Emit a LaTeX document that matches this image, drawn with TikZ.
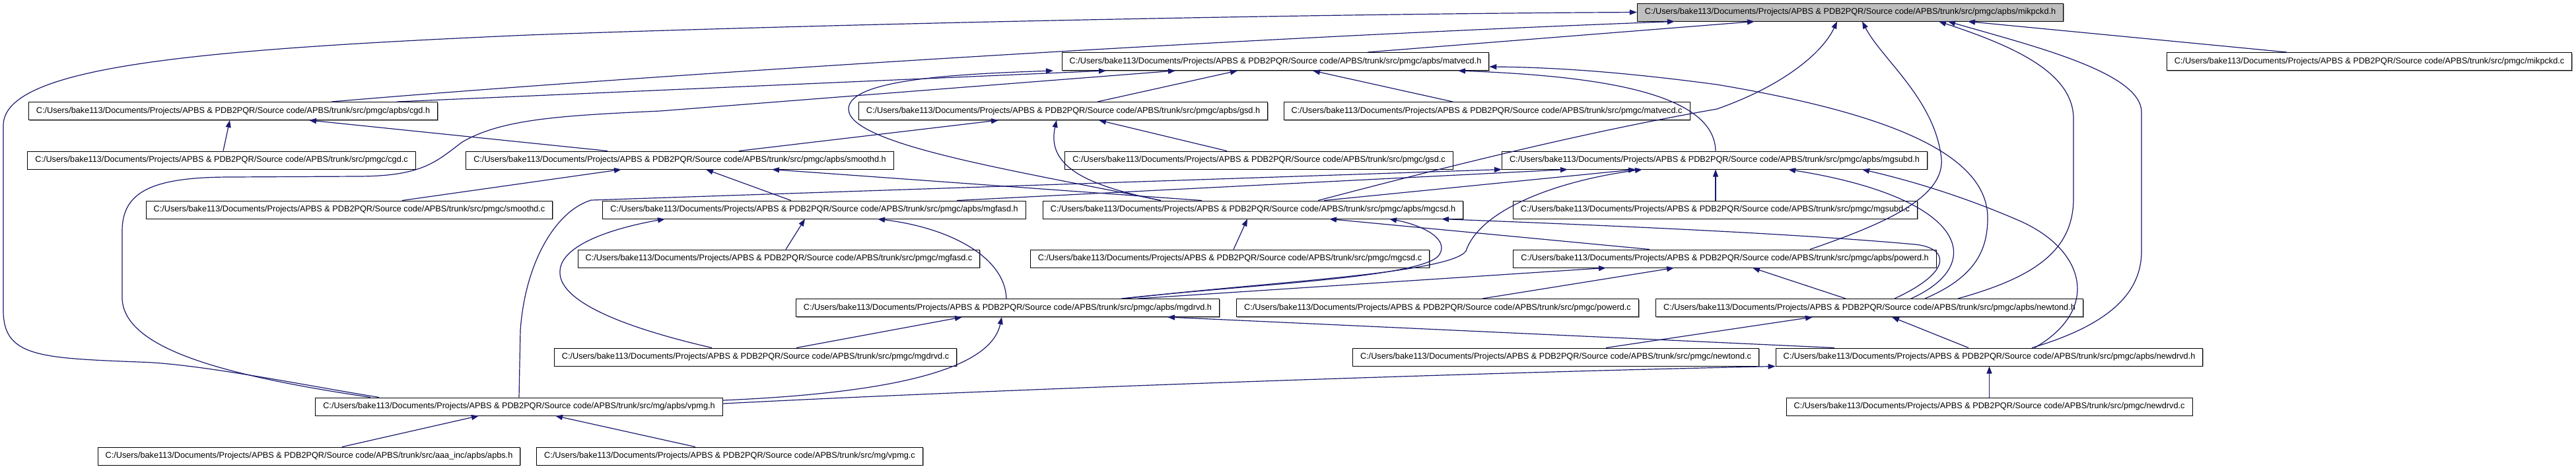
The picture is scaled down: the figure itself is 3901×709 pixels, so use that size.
\documentclass[tikz,border=0pt]{standalone}
\usepackage{fontspec}
\setmainfont{Liberation Sans}
\usetikzlibrary{arrows.meta,shadows}
\definecolor{edgeblue}{HTML}{191970}
\definecolor{rootgray}{HTML}{BFBFBF}
\newcommand{\pth}{C:/Users/bake113/Documents/Projects/APBS \& PDB2PQR/Source code/APBS/trunk/src/}
\begin{document}
\begin{tikzpicture}[x=0.5pt,y=-0.5pt,
  file/.style={draw=black,line width=0.5pt,fill=white,minimum height=13.5pt,inner xsep=5.75pt,inner ysep=0pt,
     font=\fontsize{6.35}{7.6}\selectfont,anchor=center,
     drop shadow={shadow xshift=0.6pt,shadow yshift=-0.6pt,fill=gray!80,opacity=1}},
  rootfile/.style={file,fill=rootgray},
  edge/.style={draw=edgeblue,line width=0.6pt,-{Triangle[length=5.5pt,width=4pt]}}]
\useasboundingbox (0,0) rectangle (3901,709);
% rows
\node[rootfile] (mikh) at (2802,18.5) {\pth pmgc/apbs/mikpckd.h};
\node[file] (mikc) at (3588,93) {\pth pmgc/mikpckd.c};
\node[file] (matvh) at (1931.5,93) {\pth pmgc/apbs/matvecd.h};
\node[file] (cgdh) at (353,168) {\pth pmgc/apbs/cgd.h};
\node[file] (gsdh) at (1610,168) {\pth pmgc/apbs/gsd.h};
\node[file] (matvc) at (2251.5,168) {\pth pmgc/matvecd.c};
\node[file] (cgdc) at (335.5,242.5) {\pth pmgc/cgd.c};
\node[file] (smoh) at (1029.5,242.5) {\pth pmgc/apbs/smoothd.h};
\node[file] (gsdc) at (1906.5,242.5) {\pth pmgc/gsd.c};
\node[file] (mgsubh) at (2596.5,242.5) {\pth pmgc/apbs/mgsubd.h};
\node[file] (smoc) at (529,317.5) {\pth pmgc/smoothd.c};
\node[file] (mgfash) at (1233,317.5) {\pth pmgc/apbs/mgfasd.h};
\node[file] (mgcsh) at (1897.5,317.5) {\pth pmgc/apbs/mgcsd.h};
\node[file] (mgsubc) at (2597.5,317.5) {\pth pmgc/mgsubd.c};
\node[file] (mgfasc) at (1179.5,391.5) {\pth pmgc/mgfasd.c};
\node[file] (mgcsc) at (1862.5,391.5) {\pth pmgc/mgcsd.c};
\node[file] (powh) at (2612,391.5) {\pth pmgc/apbs/powerd.h};
\node[file] (mgdrvh) at (1526,466) {\pth pmgc/apbs/mgdrvd.h};
\node[file] (powc) at (2177,466) {\pth pmgc/powerd.c};
\node[file] (newth) at (2831,466) {\pth pmgc/apbs/newtond.h};
\node[file] (mgdrvc) at (1144,540.5) {\pth pmgc/mgdrvd.c};
\node[file] (newtc) at (2356,540.5) {\pth pmgc/newtond.c};
\node[file] (newdrvh) at (3012.5,540.5) {\pth pmgc/apbs/newdrvd.h};
\node[file] (vpmgh) at (786,615.5) {\pth mg/apbs/vpmg.h};
\node[file] (newdrvc) at (3012.5,615.5) {\pth pmgc/newdrvd.c};
\node[file] (apbsh) at (468,690.5) {\pth aaa\_inc/apbs/apbs.h};
\node[file] (vpmgc) at (1105,690.5) {\pth mg/vpmg.c};
% edges into mikpckd.h
\draw[edge] (mikc.north -| 3463,0) -- (mikh.south -| 2980,0);
\draw[edge] (matvh.north -| 2071,0) -- (mikh.south -| 2657,0);
\draw[edge] (cgdh.north -| 502,0) .. controls (900,120) and (1800,60) .. (mikh.south -| 2536,0);
\draw[edge] (vpmgh.north -| 574,0) .. controls (470,585) and (300,550) .. (210,548) .. controls (60,542) and (5,540) .. (5,470) -- (5,190) .. controls (5,100) and (300,75) .. (800,53) .. controls (1300,35) and (2000,21) .. (mikh.west);
\draw[edge] (mgcsh.north -| 1996,0) .. controls (2200,250) and (2400,200) .. (2600,165) .. controls (2700,130) and (2760,80) .. (mikh.south -| 2782,0);
\draw[edge] (powh.north -| 2741,0) .. controls (2850,340) and (2945,300) .. (2940,240) .. controls (2930,150) and (2850,90) .. (mikh.south -| 2820,0);
\draw[edge] (newth.north -| 2965,0) .. controls (3080,420) and (3140,380) .. (3140,300) -- (3140,180) .. controls (3140,110) and (3050,70) .. (mikh.south -| 2936,0);
\draw[edge] (newdrvh.north -| 3077,0) .. controls (3200,490) and (3243,440) .. (3243,380) -- (3243,170) .. controls (3243,110) and (3080,70) .. (mikh.south -| 2950,0);
% edges into matvecd.h
\draw[edge] (vpmgh.north -| 561,0) .. controls (350,570) and (185,530) .. (185,450) -- (185,350) .. controls (185,290) and (230,268) .. (350,268) -- (540,267) .. controls (640,267) and (660,245) .. (700,215) .. controls (760,180) and (850,175) .. (1000,168) -- (matvh.south -| 1780,0);
\draw[edge] (cgdh.north -| 601,0) -- (matvh.south -| 1675,0);
\draw[edge] (mgcsh.north -| 1758,0) .. controls (1550,260) and (1285,220) .. (1285,165) .. controls (1285,120) and (1450,112) .. (matvh.south -| 1595,0);
\draw[edge] (gsdh.north -| 1662,0) -- (matvh.south -| 1874,0);
\draw[edge] (matvc.north -| 2200,0) -- (matvh.south -| 1988,0);
\draw[edge] (mgsubh.north -| 2598,0) .. controls (2596,140) and (2420,115) .. (matvh.south -| 2208,0);
\draw[edge] (newth.north -| 2915,0) .. controls (2990,420) and (3010,380) .. (3010,330) .. controls (3010,230) and (2850,170) .. (2600,128) .. controls (2450,108) and (2350,102) .. (matvh.east |- 0,101);
% cgd.h, gsd.h
\draw[edge] (cgdc.north -| 338,0) -- (cgdh.south -| 348,0);
\draw[edge] (smoh.north -| 920,0) -- (cgdh.south -| 468,0);
\draw[edge] (smoh.north -| 1119,0) -- (gsdh.south -| 1512,0);
\draw[edge] (mgcsh.north -| 1758,0) .. controls (1640,280) and (1585,250) .. (gsdh.south -| 1600,0);
\draw[edge] (gsdc.north -| 1858,0) -- (gsdh.south -| 1664,0);
% smoothd.h
\draw[edge] (smoc.north -| 609,0) -- (smoh.south -| 941,0);
\draw[edge] (mgfash.north -| 1198,0) -- (smoh.south -| 1069,0);
\draw[edge] (mgcsh.north -| 1820,0) -- (smoh.south -| 1169,0);
% mgsubd.h
\draw[edge] (vpmgh.north -| 786,0) -- (788,500) .. controls (795,400) and (840,320) .. (895,303) -- (mgsubh.south west);
\draw[edge] (mgfash.north -| 1449,0) -- (mgsubh.south -| 2374,0);
\draw[edge] (mgcsh.north -| 2005,0) -- (mgsubh.south -| 2477,0);
\draw[edge] (mgdrvh.north -| 1705,0) .. controls (1900,428) and (2195,415) .. (2220,380) .. controls (2240,320) and (2350,275) .. (mgsubh.south -| 2487,0);
\draw[edge] (mgsubc.north -| 2598,0) -- (mgsubh.south -| 2598,0);
\draw[edge] (newth.north -| 2894,0) .. controls (3010,400) and (2980,300) .. (mgsubh.south -| 2708,0);
\draw[edge] (newdrvh.north -| 3081,0) .. controls (3180,470) and (3160,380) .. (3060,335) .. controls (2980,300) and (2900,275) .. (mgsubh.south -| 2820,0);
% mgcsd.h
\draw[edge] (mgcsc.north -| 1868,0) -- (mgcsh.south -| 1889,0);
\draw[edge] (powh.north -| 2498,0) -- (mgcsh.south -| 2013,0);
\draw[edge] (mgdrvh.north -| 1698,0) .. controls (1900,430) and (2160,420) .. (2180,385) .. controls (2195,360) and (2150,340) .. (mgcsh.south -| 2104,0);
\draw[edge] (newth.north -| 2869,0) .. controls (2960,410) and (2950,375) .. (2900,370) .. controls (2700,352) and (2400,340) .. (mgcsh.south -| 2183,0);
% mgfasd.h
\draw[edge] (mgdrvc.north -| 1078,0) .. controls (920,490) and (845,450) .. (848,410) .. controls (850,370) and (930,345) .. (mgfash.south -| 1007,0);
\draw[edge] (mgfasc.north -| 1190,0) -- (mgfash.south -| 1219,0);
\draw[edge] (mgdrvh.north -| 1524,0) .. controls (1522,390) and (1440,345) .. (mgfash.south -| 1329,0);
% powerd.h
\draw[edge] (mgdrvh.north -| 1723,0) -- (powh.south -| 2432,0);
\draw[edge] (powc.north -| 2245,0) -- (powh.south -| 2535,0);
\draw[edge] (newth.north -| 2795,0) -- (powh.south -| 2654,0);
% mgdrvd.h
\draw[edge] (mgdrvc.north -| 1206,0) -- (mgdrvh.south -| 1457,0);
\draw[edge] (vpmgh.east |- 0,606) .. controls (1350,595) and (1500,560) .. (mgdrvh.south -| 1517,0);
\draw[edge] (newdrvh.north -| 2778,0) -- (mgdrvh.south -| 1768,0);
% newtond.h
\draw[edge] (newtc.north -| 2432,0) -- (newth.south -| 2745,0);
\draw[edge] (newdrvh.north -| 2981,0) -- (newth.south -| 2865,0);
% newdrvd.h
\draw[edge] (vpmgh.east |- 0,611) .. controls (1500,590) and (2200,565) .. (newdrvh.south west);
\draw[edge] (newdrvc.north) -- (newdrvh.south);
% vpmg.h
\draw[edge] (apbsh.north -| 518,0) -- (vpmgh.south -| 725,0);
\draw[edge] (vpmgc.north -| 1053,0) -- (vpmgh.south -| 841,0);
\end{tikzpicture}
\end{document}
